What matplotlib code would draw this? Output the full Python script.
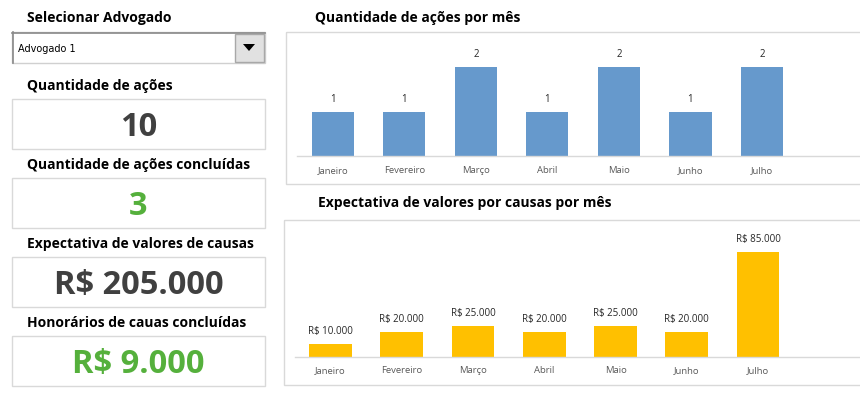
import matplotlib.pyplot as plt
from matplotlib.patches import Rectangle, Polygon

plt.rcParams['font.family'] = ['Open Sans', 'DejaVu Sans']

# data
meses = ["Janeiro", "Fevereiro", "Março", "Abril", "Maio", "Junho", "Julho"]
qtd_acoes = [1, 1, 2, 1, 2, 1, 2]
valores_causas = [10000, 20000, 25000, 20000, 25000, 20000, 85000]

advogado = "Advogado 1"
kpi_titulos = ["Quantidade de ações", "Quantidade de ações concluídas",
               "Expectativa de valores de causas", "Honorários de cauas concluídas"]
kpi_valores = ["10", "3", "R$ 205.000", "R$ 9.000"]
kpi_cores = ["#404040", "#55b03c", "#404040", "#55b03c"]

W, H = 860, 394
BLUE = "#6699cc"
GOLD = "#ffc000"
FRAME = "#d9d9d9"


def brl(v):
    return "R$ " + f"{v:,.0f}".replace(",", ".")


fig = plt.figure(figsize=(W / 100, H / 100), dpi=100)

# overlay in pixel coords for the panel layout
bg = fig.add_axes([0, 0, 1, 1])
bg.set_xlim(0, W)
bg.set_ylim(H, 0)
bg.axis("off")

# dropdown
bg.text(27, 18, "Selecionar Advogado", fontsize=10, fontweight="bold", va="center", ha="left")
bg.add_patch(Rectangle((12, 32), 253, 31, facecolor="white", edgecolor="#d0d0d0", lw=1))
bg.plot([12, 265], [32.5, 32.5], color="#8a8a8a", lw=1.2)
bg.plot([12.5, 12.5], [32, 63], color="#8a8a8a", lw=1.2)
bg.add_patch(Rectangle((235, 34), 29, 28, facecolor="#e1e1e1", edgecolor="#a8a8a8", lw=1))
bg.add_patch(Polygon([[243, 44], [255, 44], [249, 51]], closed=True, facecolor="black", edgecolor="none"))
bg.text(18, 49, advogado, fontsize=7, family="DejaVu Sans", va="center", ha="left")

# KPI boxes
box_tops = [99, 178, 257, 336]
for titulo, valor, cor, top in zip(kpi_titulos, kpi_valores, kpi_cores, box_tops):
    bg.text(27, top - 13, titulo, fontsize=10, fontweight="bold", va="center", ha="left")
    bg.add_patch(Rectangle((12, top), 253, 50, facecolor="white", edgecolor=FRAME, lw=1))
    bg.text(138.5, top + 28.5, valor, fontsize=23.5, fontweight="bold", color=cor, va="center", ha="center")

# chart frames and titles
bg.add_patch(Rectangle((286, 32), 600, 152, facecolor="none", edgecolor=FRAME, lw=1))
bg.add_patch(Rectangle((284, 220), 600, 165, facecolor="none", edgecolor=FRAME, lw=1))
bg.text(315, 18, "Quantidade de ações por mês", fontsize=10, fontweight="bold", va="center", ha="left")
bg.text(318, 203, "Expectativa de valores por causas por mês", fontsize=10, fontweight="bold",
        va="center", ha="left")


def bar_axes(left, right, base, top):
    return fig.add_axes([left / W, 1 - base / H, (right - left) / W, (base - top) / H])


def style(ax):
    for s in ["top", "right", "left"]:
        ax.spines[s].set_visible(False)
    ax.spines["bottom"].set_color(FRAME)
    ax.spines["bottom"].set_linewidth(1)
    ax.set_yticks([])
    ax.tick_params(axis="x", length=0, pad=7, labelsize=6.8, labelcolor="#595959")
    ax.patch.set_alpha(0)


# top chart
ax1 = bar_axes(297, 860, 156, 45)
x = list(range(len(meses)))
b1 = ax1.bar(x, qtd_acoes, width=0.59, color=BLUE)
ax1.set_xlim(-0.5, 7.37)
ax1.set_ylim(0, 2.5)
ax1.set_xticks(x)
ax1.set_xticklabels(meses)
style(ax1)
for rect, v in zip(b1, qtd_acoes):
    ax1.annotate(str(v), (rect.get_x() + rect.get_width() / 2, v), xytext=(0, 9),
                 textcoords="offset points", ha="center", va="center", fontsize=7, color="#262626")

# bottom chart
ax2 = bar_axes(295, 860, 356.7, 230)
b2 = ax2.bar(x, valores_causas, width=0.6, color=GOLD)
ax2.set_xlim(-0.5, 7.43)
ax2.set_ylim(0, 102600)
ax2.set_xticks(x)
ax2.set_xticklabels(meses)
style(ax2)
for rect, v in zip(b2, valores_causas):
    ax2.annotate(brl(v), (rect.get_x() + rect.get_width() / 2, v), xytext=(0, 9),
                 textcoords="offset points", ha="center", va="center", fontsize=7, color="#262626")

fig.savefig("out.png", dpi=100)
